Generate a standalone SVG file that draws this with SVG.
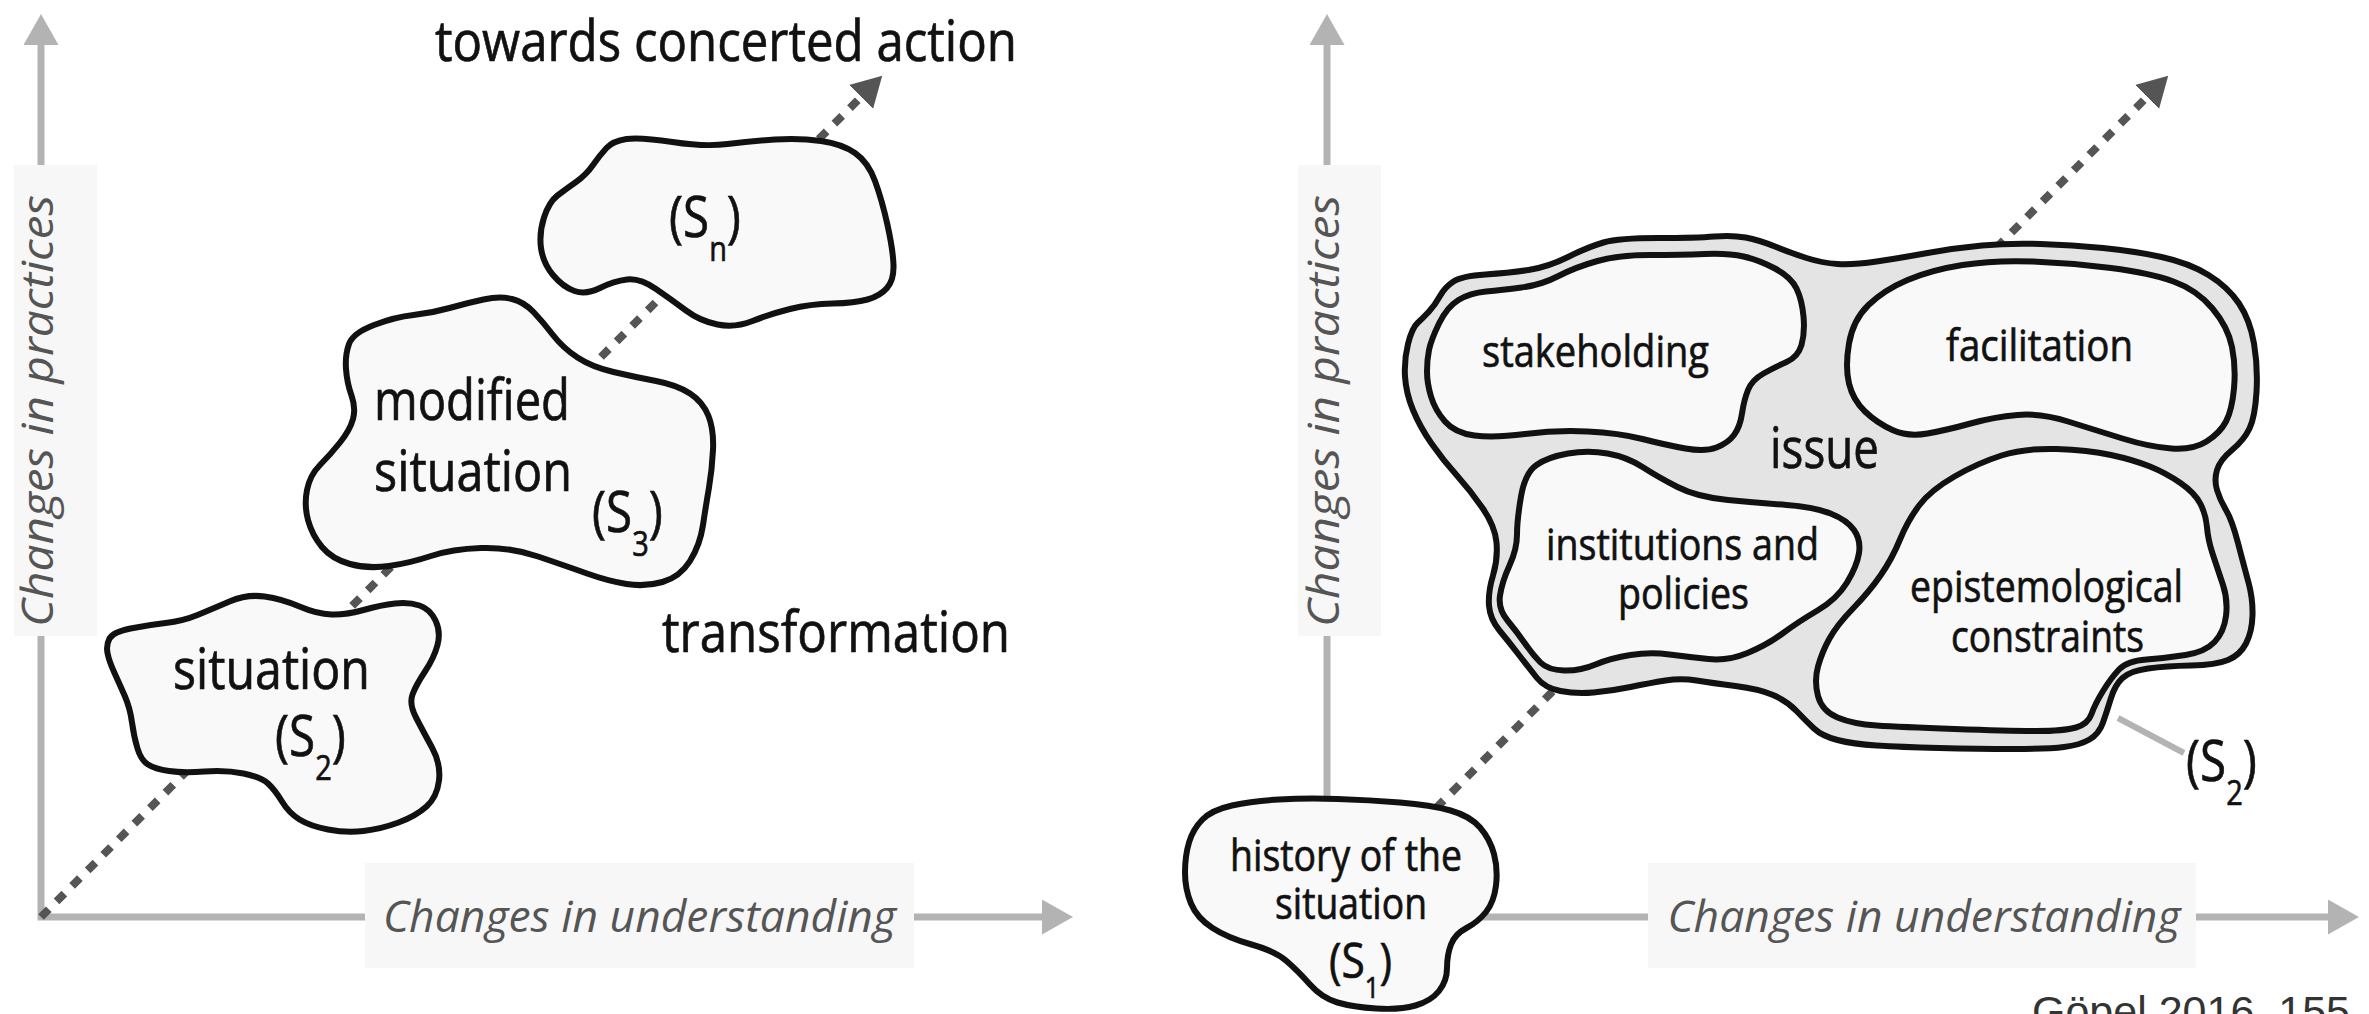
<svg xmlns="http://www.w3.org/2000/svg" width="2369" height="1014" viewBox="0 0 2369 1014">
<style>
.ax{fill:none;stroke:#b3b3b3;stroke-width:7;stroke-linejoin:miter}
.axbox{fill:#f7f7f7}
.axlbl{font-family:"Open Sans","Noto Sans",sans-serif;font-style:italic;font-size:44px;fill:#555}
.dash{fill:none;stroke:#555;stroke-width:8;stroke-dasharray:11 11}
.blob{fill:#f9f9f9;stroke:#111;stroke-width:6;stroke-linejoin:round}
.outer{fill:#e4e4e4;stroke:#111;stroke-width:6;stroke-linejoin:round}
.lbl{font-family:"Open Sans","Noto Sans",sans-serif;fill:#111;stroke:#111;stroke-width:0.7}
.big{font-size:56px}
.sm{font-size:44px}
.sub{font-size:34px}
.ptr{stroke:#b3b3b3;stroke-width:6;fill:none}
.cite{font-family:"Liberation Sans",Arial,sans-serif;font-size:43px;fill:#333}
</style>
<defs>
<marker id="ahGray" markerUnits="userSpaceOnUse" viewBox="0 0 31 35" markerWidth="31" markerHeight="35" refX="0" refY="17.5" orient="auto-start-reverse"><path d="M0,0 L31,17.5 L0,35 Z" fill="#b3b3b3"/></marker>
<marker id="ahDark" markerUnits="userSpaceOnUse" viewBox="0 0 30 34" markerWidth="30" markerHeight="34" refX="0" refY="17" orient="auto"><path d="M0,0 L30,17 L0,34 Z" fill="#555"/></marker>
</defs>

<g id="axes-left">
<path class="ax" d="M41,45 V917 H1042" marker-start="url(#ahGray)" marker-end="url(#ahGray)"/>
<rect class="axbox" x="14" y="165" width="83" height="471"/>
<text class="axlbl" transform="translate(53,411) rotate(-90)" text-anchor="middle" textLength="432" lengthAdjust="spacingAndGlyphs">Changes in practices</text>
<rect class="axbox" x="365" y="863" width="549" height="105"/>
<text class="axlbl" x="639.5" y="932" text-anchor="middle" textLength="513" lengthAdjust="spacingAndGlyphs">Changes in understanding</text>
</g>

<g id="axes-right">
<path class="ax" d="M1327,45 V917 H2328" marker-start="url(#ahGray)" marker-end="url(#ahGray)"/>
<rect class="axbox" x="1298" y="165" width="83" height="471"/>
<text class="axlbl" transform="translate(1339,411) rotate(-90)" text-anchor="middle" textLength="432" lengthAdjust="spacingAndGlyphs">Changes in practices</text>
<rect class="axbox" x="1648" y="863" width="548" height="105"/>
<text class="axlbl" x="1924" y="932" text-anchor="middle" textLength="513" lengthAdjust="spacingAndGlyphs">Changes in understanding</text>
</g>

<g id="connectors">
<path class="dash" d="M41,917 L861,97" marker-end="url(#ahDark)"/>
<path class="dash" d="M1327,917 L2147,97" marker-end="url(#ahDark)"/>
<path class="ptr" d="M2118,718 L2184,753"/>
</g>

<g id="title-left">
<text class="lbl big" x="726" y="61" text-anchor="middle" textLength="582" lengthAdjust="spacingAndGlyphs">towards concerted action</text>
</g>
<g id="transformation">
<text class="lbl big" x="836" y="652" text-anchor="middle" textLength="348" lengthAdjust="spacingAndGlyphs">transformation</text>
</g>

<g id="node-s2-left">
<path class="blob" d="M107.5,653 Q106,645 109.5,638.5 Q113,632 130.5,628.5 Q148,625 165.5,623 Q183,621 197.5,615 Q212,609 229.5,601.5 Q247,594 264.5,596.5 Q282,599 299.5,606.5 Q317,614 331.5,614.5 Q346,615 363.5,610 Q381,605 395,603.5 Q409,602 419.5,605.5 Q430,609 435.5,620.5 Q441,632 437.5,645 Q434,658 425,671.5 Q416,685 412.5,694.5 Q409,704 416,717.5 Q423,731 432,747.5 Q441,764 439,780.5 Q437,797 426.5,806.5 Q416,816 398.5,822.5 Q381,829 363.5,831 Q346,833 328,829.5 Q310,826 299.5,819.5 Q289,813 282,801.5 Q275,790 268,783.5 Q261,777 243.5,773.5 Q226,770 204.5,771.5 Q183,773 169,771 Q155,769 148,764.5 Q141,760 137.5,748.5 Q134,737 132,722.5 Q130,708 125,696.5 Q120,685 114.5,673 Q109,661 107.5,653 Z"/>
<text class="lbl big" x="271.5" y="689" text-anchor="middle" textLength="197" lengthAdjust="spacingAndGlyphs">situation</text>
<text class="lbl big" transform="translate(275,756) scale(0.85,1)">(S<tspan class="sub" dy="24">2</tspan><tspan dy="-24">)</tspan></text>
</g>

<g id="node-s3">
<path class="blob" d="M349,344 Q353,333 374,325 Q395,317 413.5,315 Q432,313 449.5,308 Q467,303 483.5,299.5 Q500,296 512,299 Q524,302 533.5,312 Q543,322 553,335 Q563,348 577.5,357.5 Q592,367 613.5,372 Q635,377 656,381 Q677,385 690,393.5 Q703,402 708.5,416 Q714,430 713,450 Q712,470 709,487.5 Q706,505 703,525 Q700,545 690,561 Q680,577 662.5,582 Q645,587 626.5,584 Q608,581 587,573.5 Q566,566 538,556.5 Q510,547 481,548 Q452,549 431,556 Q410,563 389,566 Q368,569 350,564 Q332,559 322,547 Q312,535 308,520 Q304,505 307,490 Q310,475 320,465 Q330,455 340,442.5 Q350,430 353,419 Q356,408 351.5,395.5 Q347,383 346,369 Q345,355 349,344 Z"/>
<text class="lbl big" x="374" y="420" textLength="196" lengthAdjust="spacingAndGlyphs">modified</text>
<text class="lbl big" x="374" y="491" textLength="198" lengthAdjust="spacingAndGlyphs">situation</text>
<text class="lbl big" transform="translate(592,532) scale(0.85,1)">(S<tspan class="sub" dy="24">3</tspan><tspan dy="-24">)</tspan></text>
</g>

<g id="node-sn">
<path class="blob" d="M606.5,148 Q613,141 626.5,139 Q640,137 672.5,142 Q705,147 727.5,144 Q750,141 775,139.5 Q800,138 821,141 Q842,144 855,153 Q868,162 875,181 Q882,200 887.5,225 Q893,250 893.5,265 Q894,280 887,288 Q880,296 867.5,299.5 Q855,303 832.5,303.5 Q810,304 790,309 Q770,314 752.5,321 Q735,328 717.5,324.5 Q700,321 686,310.5 Q672,300 656,289 Q640,278 627,279.5 Q614,281 600,288 Q586,295 574.5,291 Q563,287 553,275 Q543,263 541,248 Q539,233 544,217.5 Q549,202 557.5,195.5 Q566,189 576,182 Q586,175 593,165 Q600,155 606.5,148 Z"/>
<text class="lbl big" transform="translate(669,237) scale(0.85,1)">(S<tspan class="sub" dy="24">n</tspan><tspan dy="-24">)</tspan></text>
</g>

<g id="node-s1">
<path class="blob" d="M1189,842.5 Q1193,829 1202.5,819.5 Q1212,810 1232,805.5 Q1252,801 1279,799.5 Q1306,798 1337.5,799 Q1369,800 1400,802.5 Q1431,805 1450.5,810.5 Q1470,816 1480,827.5 Q1490,839 1494,854 Q1498,869 1496,885.5 Q1494,902 1486,912 Q1478,922 1466.5,928 Q1455,934 1451,944.5 Q1447,955 1447,968 Q1447,981 1439,991 Q1431,1001 1415.5,1005.5 Q1400,1010 1376.5,1008.5 Q1353,1007 1337.5,1002.5 Q1322,998 1310,984.5 Q1298,971 1286.5,961 Q1275,951 1251.5,944.5 Q1228,938 1212.5,928 Q1197,918 1191,903.5 Q1185,889 1185,872.5 Q1185,856 1189,842.5 Z"/>
<text class="lbl sm" x="1346" y="871" text-anchor="middle" textLength="232" lengthAdjust="spacingAndGlyphs">history of the</text>
<text class="lbl sm" x="1351" y="919" text-anchor="middle" textLength="152" lengthAdjust="spacingAndGlyphs">situation</text>
<text class="lbl" transform="translate(1329,978) scale(0.85,1)" style="font-size:50px">(S<tspan dy="20" style="font-size:30px">1</tspan><tspan dy="-20">)</tspan></text>
</g>

<g id="node-s2-right">
<path class="outer" d="M1408,344 Q1412,328 1417.5,323 Q1423,318 1429,311.5 Q1435,305 1440,296 Q1445,287 1453.5,281.5 Q1462,276 1485.5,274.5 Q1509,273 1528.5,270 Q1548,267 1568,257 Q1588,247 1603.5,242.5 Q1619,238 1658,238 Q1697,238 1714.5,236.5 Q1732,235 1745.5,237.5 Q1759,240 1775,246.5 Q1791,253 1806.5,258 Q1822,263 1837.5,264 Q1853,265 1876.5,261.5 Q1900,258 1927.5,253 Q1955,248 1982,245.5 Q2009,243 2040.5,244 Q2072,245 2103,248 Q2134,251 2161.5,257 Q2189,263 2208.5,275 Q2228,287 2239,303.5 Q2250,320 2254,343.5 Q2258,367 2256.5,392 Q2255,417 2249.5,428.5 Q2244,440 2232,450 Q2220,460 2217,470 Q2214,480 2217,490 Q2220,500 2226,510 Q2232,520 2238,543 Q2244,566 2248.5,582.5 Q2253,599 2252.5,615.5 Q2252,632 2246,643.5 Q2240,655 2228,660 Q2216,665 2191,665.5 Q2166,666 2148,668.5 Q2130,671 2122.5,678 Q2115,685 2111,698 Q2107,711 2103,722.5 Q2099,734 2089.5,739.5 Q2080,745 2064,747 Q2048,749 2013,749 Q1978,749 1939,748 Q1900,747 1876.5,745.5 Q1853,744 1837.5,740 Q1822,736 1814,728.5 Q1806,721 1796.5,711 Q1787,701 1773,695 Q1759,689 1735.5,686 Q1712,683 1696.5,680.5 Q1681,678 1665.5,680.5 Q1650,683 1630.5,687 Q1611,691 1593.5,692.5 Q1576,694 1560.5,691 Q1545,688 1537,678 Q1529,668 1519,655 Q1509,642 1499.5,630.5 Q1490,619 1489,605.5 Q1488,592 1493,575.5 Q1498,559 1496.5,542.5 Q1495,526 1482.5,508 Q1470,490 1456.5,475 Q1443,460 1431.5,443.5 Q1420,427 1413,410 Q1406,393 1405,376.5 Q1404,360 1408,344 Z"/>
<text class="lbl big" x="1824.5" y="468" text-anchor="middle" textLength="109" lengthAdjust="spacingAndGlyphs">issue</text>
<text class="lbl" transform="translate(2186,781) scale(0.85,1)" style="font-size:56px">(S<tspan dy="24" style="font-size:34px">2</tspan><tspan dy="-24">)</tspan></text>
</g>

<g id="node-stakeholding">
<path class="blob" d="M1429,350 Q1431,340 1439,323.5 Q1447,307 1458.5,300 Q1470,293 1486,291.5 Q1502,290 1521.5,287.5 Q1541,285 1558.5,276 Q1576,267 1597.5,261 Q1619,255 1650,255 Q1681,255 1704.5,254 Q1728,253 1743.5,256.5 Q1759,260 1775,268.5 Q1791,277 1796.5,288.5 Q1802,300 1803.5,316.5 Q1805,333 1801.5,345 Q1798,357 1786.5,362 Q1775,367 1763.5,373.5 Q1752,380 1748,390 Q1744,400 1742,413.5 Q1740,427 1734,435 Q1728,443 1716.5,447.5 Q1705,452 1685.5,448.5 Q1666,445 1642.5,439 Q1619,433 1587.5,431.5 Q1556,430 1525,434 Q1494,438 1474.5,435.5 Q1455,433 1445,421.5 Q1435,410 1431,396.5 Q1427,383 1427,371.5 Q1427,360 1429,350 Z"/>
<text class="lbl sm" x="1595.5" y="367" text-anchor="middle" textLength="227" lengthAdjust="spacingAndGlyphs">stakeholding</text>
</g>

<g id="node-facilitation">
<path class="blob" d="M1849,383.5 Q1845,367 1849,343.5 Q1853,320 1868.5,305 Q1884,290 1907.5,280 Q1931,270 1962.5,265 Q1994,260 2033,261.5 Q2072,263 2111,268 Q2150,273 2173.5,281.5 Q2197,290 2212.5,308.5 Q2228,327 2232,347 Q2236,367 2234,388.5 Q2232,410 2226,421.5 Q2220,433 2206.5,441.5 Q2193,450 2171.5,448.5 Q2150,447 2122.5,438.5 Q2095,430 2068,421.5 Q2041,413 2017.5,415 Q1994,417 1970.5,423.5 Q1947,430 1927.5,433.5 Q1908,437 1892.5,430 Q1877,423 1865,411.5 Q1853,400 1849,383.5 Z"/>
<text class="lbl sm" x="2039.5" y="361" text-anchor="middle" textLength="187" lengthAdjust="spacingAndGlyphs">facilitation</text>
</g>

<g id="node-institutions">
<path class="blob" d="M1517,534.5 Q1517,520 1521,496.5 Q1525,473 1536.5,465 Q1548,457 1568,453.5 Q1588,450 1607.5,453.5 Q1627,457 1642.5,467 Q1658,477 1677.5,487 Q1697,497 1728,500 Q1759,503 1786.5,505 Q1814,507 1830.5,513.5 Q1847,520 1854,530 Q1861,540 1859,553 Q1857,566 1847,582.5 Q1837,599 1817.5,610.5 Q1798,622 1782.5,633.5 Q1767,645 1747.5,653 Q1728,661 1708.5,659 Q1689,657 1669.5,654.5 Q1650,652 1630.5,655 Q1611,658 1595.5,664.5 Q1580,671 1564,670.5 Q1548,670 1540.5,662.5 Q1533,655 1525,643.5 Q1517,632 1507.5,620.5 Q1498,609 1500,595.5 Q1502,582 1509.5,565.5 Q1517,549 1517,534.5 Z"/>
<text class="lbl sm" x="1682.5" y="560" text-anchor="middle" textLength="273" lengthAdjust="spacingAndGlyphs">institutions and</text>
<text class="lbl sm" x="1683.5" y="609" text-anchor="middle" textLength="131" lengthAdjust="spacingAndGlyphs">policies</text>
</g>

<g id="node-epistemological">
<path class="blob" d="M1900,539.5 Q1908,520 1919.5,505 Q1931,490 1954.5,476.5 Q1978,463 2001.5,455.5 Q2025,448 2056.5,449 Q2088,450 2111,455 Q2134,460 2150,466.5 Q2166,473 2180.5,483 Q2195,493 2200.5,504 Q2206,515 2207,527.5 Q2208,540 2213,555 Q2218,570 2223,585 Q2228,600 2226,616 Q2224,632 2214.5,642 Q2205,652 2185.5,655 Q2166,658 2146.5,659.5 Q2127,661 2119,669.5 Q2111,678 2103,691 Q2095,704 2091.5,714 Q2088,724 2076,727.5 Q2064,731 2036.5,731 Q2009,731 1954.5,729 Q1900,727 1876.5,725.5 Q1853,724 1837.5,717.5 Q1822,711 1818,696 Q1814,681 1818,666.5 Q1822,652 1829.5,638.5 Q1837,625 1853,608.5 Q1869,592 1880.5,575.5 Q1892,559 1900,539.5 Z"/>
<text class="lbl sm" x="2046.5" y="602" text-anchor="middle" textLength="273" lengthAdjust="spacingAndGlyphs">epistemological</text>
<text class="lbl sm" x="2047.5" y="652" text-anchor="middle" textLength="193" lengthAdjust="spacingAndGlyphs">constraints</text>
</g>

<g id="citation">
<text class="cite" x="2032" y="1026">Göpel 2016, 155</text>
</g>
</svg>
